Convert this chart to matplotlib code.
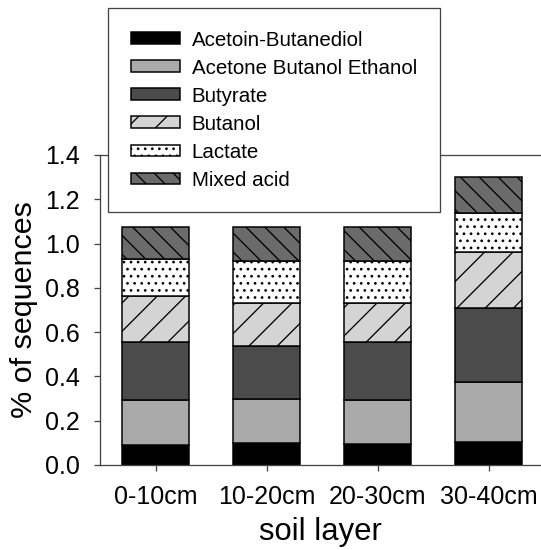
import numpy as np
import matplotlib
matplotlib.use('Agg')
import matplotlib.pyplot as plt

DPI = 170  # high dpi keeps hatch spacing as wide as in the reference


def pt(px):
    # convert pixel sizes
    return px * 72.0 / DPI


layers = ['0-10cm', '10-20cm', '20-30cm', '30-40cm']
pathways = ['Acetoin-Butanediol', 'Acetone Butanol Ethanol', 'Butyrate',
            'Butanol', 'Lactate', 'Mixed acid']

acetoin = [0.090, 0.098, 0.093, 0.105]
abe = [0.204, 0.199, 0.201, 0.268]
butyrate = [0.263, 0.242, 0.263, 0.335]
butanol = [0.208, 0.191, 0.176, 0.253]
lactate = [0.165, 0.191, 0.188, 0.179]
mixed_acid = [0.146, 0.155, 0.155, 0.162]

y_ticks = [0.0, 0.2, 0.4, 0.6, 0.8, 1.0, 1.2, 1.4]

fills = ['#000000', '#aaaaaa', '#4b4b4b', '#d4d4d4', '#ffffff', '#6b6b6b']
hatches = [None, None, None, '//', '....', '\\\\\\']

plt.rcParams['font.family'] = ['Liberation Sans', 'DejaVu Sans']
plt.rcParams['hatch.linewidth'] = pt(1.3)
plt.rcParams['hatch.color'] = 'black'

fig = plt.figure(figsize=(541 / DPI, 550 / DPI), dpi=DPI)
ax = fig.add_axes([100 / 541, 1 - 465 / 550, 441 / 541, 310 / 550])

index = np.arange(len(layers))
series = [acetoin, abe, butyrate, butanol, lactate, mixed_acid]
bottom = np.zeros(len(layers))
for name, vals, col, h in zip(pathways, series, fills, hatches):
    ax.bar(index, vals, 0.61, bottom=bottom, color=col, edgecolor='black',
           linewidth=pt(1.5), hatch=h, label=name)
    bottom = bottom + np.array(vals)

ax.set_xlim(-0.5, -0.5 + 441 / 111)
ax.set_ylim(0, 1.4)
ax.set_yticks(y_ticks)
ax.set_yticklabels(['%.1f' % v for v in y_ticks])
ax.set_xticks(index)
ax.set_xticklabels(layers)

for s in ['left', 'bottom', 'top']:
    ax.spines[s].set_color('#444444')
    ax.spines[s].set_linewidth(pt(1.3))
ax.spines['right'].set_visible(False)

ax.tick_params(axis='both', direction='out', length=pt(6), width=pt(1.3),
               colors='#444444', labelcolor='black', labelsize=pt(25))
ax.tick_params(axis='y', pad=pt(14))
ax.tick_params(axis='x', pad=pt(14))

ax.set_xlabel('soil layer', fontsize=pt(31), labelpad=pt(8))
ax.set_ylabel('% of sequences', fontsize=pt(30.5), labelpad=pt(7))

handles, labels = ax.get_legend_handles_labels()
leg = fig.legend(handles, labels, loc='upper left',
                 bbox_to_anchor=(108 / 541, 1 - 8 / 550), borderaxespad=0,
                 fontsize=pt(20.5), frameon=True, fancybox=False,
                 handlelength=2.4, handleheight=0.5, handletextpad=0.59,
                 labelspacing=0.44, borderpad=1.1)
leg.get_frame().set_edgecolor('#444444')
leg.get_frame().set_linewidth(pt(1.3))
leg.get_frame().set_alpha(1)
leg.set_zorder(10)

fig.savefig('out.png', dpi=DPI)
